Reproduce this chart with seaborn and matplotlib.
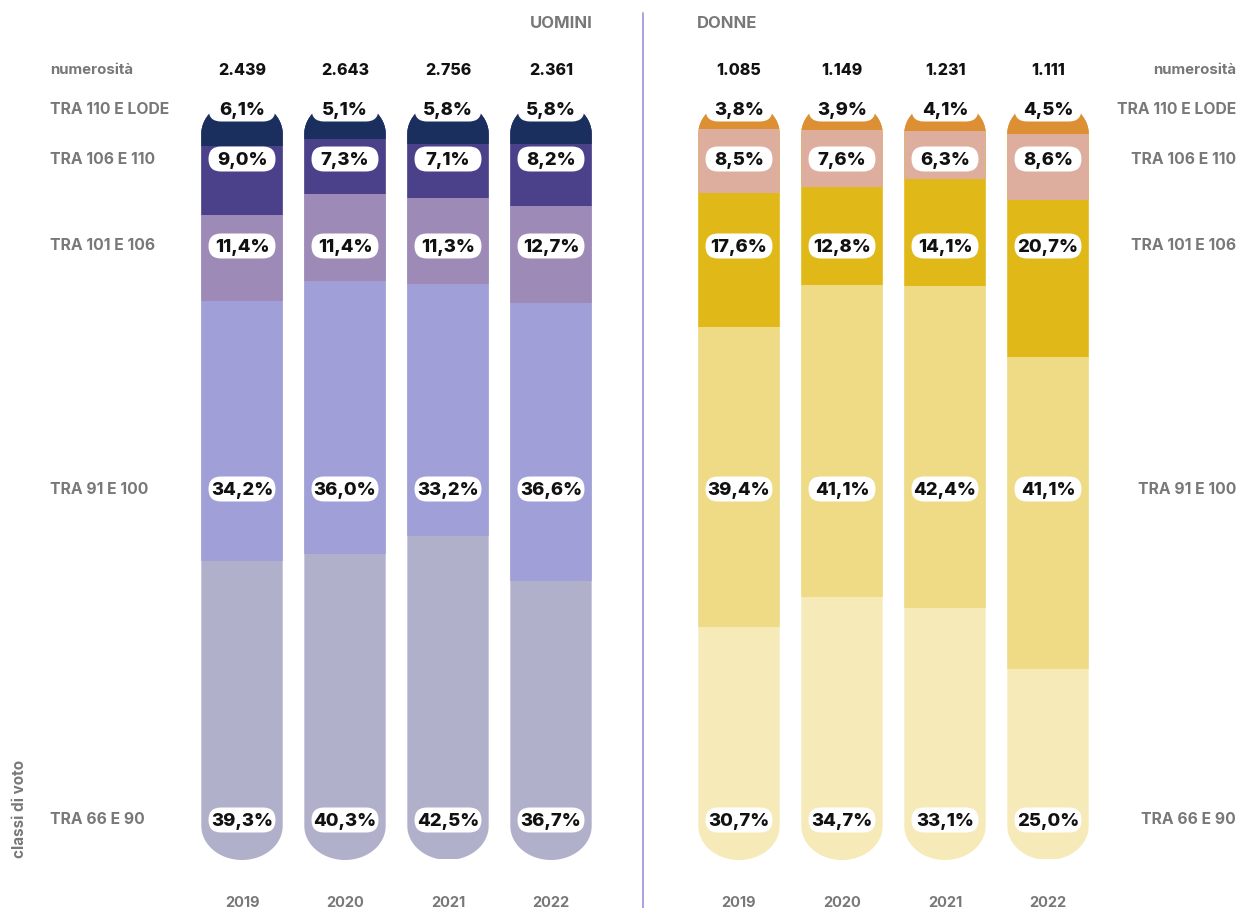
import numpy as np
import pandas as pd
import matplotlib
matplotlib.use("Agg")
import matplotlib.pyplot as plt
import seaborn as sns
from matplotlib.path import Path
from matplotlib.patches import FancyBboxPatch
from matplotlib.transforms import IdentityTransform

# ---- data ----
years = ["2019", "2020", "2021", "2022"]
classes = ["TRA 110 E LODE", "TRA 106 E 110", "TRA 101 E 106", "TRA 91 E 100", "TRA 66 E 90"]

men_counts = ["2.439", "2.643", "2.756", "2.361"]
women_counts = ["1.085", "1.149", "1.231", "1.111"]

men_110_lode = [6.1, 5.1, 5.8, 5.8]
men_106_110 = [9.0, 7.3, 7.1, 8.2]
men_101_106 = [11.4, 11.4, 11.3, 12.7]
men_91_100 = [34.2, 36.0, 33.2, 36.6]
men_66_90 = [39.3, 40.3, 42.5, 36.7]

women_110_lode = [3.8, 3.9, 4.1, 4.5]
women_106_110 = [8.5, 7.6, 6.3, 8.6]
women_101_106 = [17.6, 12.8, 14.1, 20.7]
women_91_100 = [39.4, 41.1, 42.4, 41.1]
women_66_90 = [30.7, 34.7, 33.1, 25.0]

men_colors = ["#1b2f5f", "#4a418a", "#9d8ab6", "#a09fd8", "#b0b0cb"]
women_colors = ["#dc8f33", "#ddad9d", "#e0b919", "#efda86", "#f6eab8"]

# ---- style ----
sns.set_theme(style="white")
plt.rcParams["font.family"] = ["Inter", "DejaVu Sans"]

W, H = 1238, 908
fig = plt.figure(figsize=(W / 100, H / 100), dpi=100)
fig.patch.set_facecolor("white")

GRAY = "#787878"
BAR_TOP, BAR_BOT = 100, 860          # pixel rows of the bar ends
ROW_PX = [109, 159, 246, 489, 820]   # pixel rows of the class labels
SLOT = 103                           # pixel distance between bar centres
BAR_W = 0.79
BOX_W, BOX_H = 67, 25                # value-label pill size in pixels


def fx(px):
    return px / W


def fy(py):
    return 1 - py / H


def px_to_val(py):
    return (py - BAR_TOP) / (BAR_BOT - BAR_TOP) * 100


def fmt(v):
    return f"{v:.1f}".replace(".", ",") + "%"


def pill_path(cx, top, bot, hw, ry, n=60):
    """Rounded bar outline in display pixels (origin bottom-left)."""
    t1 = np.linspace(0, np.pi, n)
    top_arc = np.column_stack([cx + hw * np.cos(t1), top - ry + ry * np.sin(t1)])
    t2 = np.linspace(np.pi, 2 * np.pi, n)
    bot_arc = np.column_stack([cx + hw * np.cos(t2), bot + ry + ry * np.sin(t2)])
    verts = np.vstack([top_arc, bot_arc, top_arc[:1]])
    codes = [Path.MOVETO] + [Path.LINETO] * (len(verts) - 2) + [Path.CLOSEPOLY]
    return Path(verts, codes)


def draw_group(first_center, series, colors, counts):
    left = first_center - SLOT / 2
    ax = fig.add_axes([fx(left), fy(BAR_BOT), fx(SLOT * 4), (BAR_BOT - BAR_TOP) / H])
    cum = np.cumsum(np.array(series), axis=0)
    # draw from the bottom class upward so shorter stacks sit on top
    for k in range(len(series) - 1, -1, -1):
        df = pd.DataFrame({"anno": years, "valore": cum[k]})
        sns.barplot(data=df, x="anno", y="valore", order=years, color=colors[k],
                    saturation=1, width=BAR_W, ax=ax, linewidth=0)
    ax.set_xlim(-0.5, 3.5)
    ax.set_ylim(100, 0)
    ax.set_yticks([])
    ax.set_xlabel("")
    ax.set_ylabel("")
    for s in ax.spines.values():
        s.set_visible(False)
    ax.tick_params(axis="x", length=0, pad=26)
    for lbl in ax.get_xticklabels():
        lbl.set_color(GRAY)
        lbl.set_fontweight("bold")
        lbl.set_fontsize(10.5)

    # rounded ends for each bar
    fig.canvas.draw()
    hw = BAR_W / 2 * SLOT
    for p in ax.patches:
        cx_data = p.get_x() + p.get_width() / 2
        cx = ax.transData.transform((cx_data, 0))[0]
        path = pill_path(cx, H - BAR_TOP, H - BAR_BOT, hw, 34)
        p.set_clip_path(path, IdentityTransform())

    # value labels on fixed rows, each on a white pill
    for k, vals in enumerate(series):
        yv = px_to_val(ROW_PX[k] + 1)
        for i, v in enumerate(vals):
            cx = ax.transData.transform((i, 0))[0]
            cy = H - ROW_PX[k]
            box = FancyBboxPatch((cx - BOX_W / 2, cy - BOX_H / 2), BOX_W, BOX_H,
                                 boxstyle=f"round,pad=0,rounding_size={BOX_H / 2}",
                                 fc="white", ec="none", transform=IdentityTransform(),
                                 clip_on=False, zorder=4)
            ax.add_patch(box)
            ax.text(i, yv, fmt(v), ha="center", va="center", fontsize=13.3,
                    fontweight=800, color="#111111", clip_on=False, zorder=5)
    # counts
    for i, c in enumerate(counts):
        ax.text(i, px_to_val(70), c, ha="center", va="center", fontsize=11.5,
                fontweight=800, color="#111111", clip_on=False)
    return ax


men_series = [men_110_lode, men_106_110, men_101_106, men_91_100, men_66_90]
women_series = [women_110_lode, women_106_110, women_101_106, women_91_100, women_66_90]

draw_group(242, men_series, men_colors, men_counts)
draw_group(739, women_series, women_colors, women_counts)

# row labels on both sides
for name, py in zip(classes, ROW_PX):
    fig.text(fx(50), fy(py), name, ha="left", va="center", fontsize=11.3,
             fontweight="bold", color=GRAY)
    fig.text(fx(1236), fy(py), name, ha="right", va="center", fontsize=11.3,
             fontweight="bold", color=GRAY)
fig.text(fx(50), fy(70), "numerosità", ha="left", va="center", fontsize=10.8,
         fontweight="bold", color=GRAY)
fig.text(fx(1236), fy(70), "numerosità", ha="right", va="center", fontsize=10.8,
         fontweight="bold", color=GRAY)

# group headers and divider
fig.text(fx(593), fy(24), "UOMINI", ha="right", va="center", fontsize=12,
         fontweight="bold", color=GRAY)
fig.text(fx(697), fy(24), "DONNE", ha="left", va="center", fontsize=12,
         fontweight="bold", color=GRAY)
fig.add_artist(plt.Line2D([fx(643), fx(643)], [fy(13), fy(908)],
                          transform=fig.transFigure, color="#a19be0", lw=1.3))

fig.text(fx(20), fy(809), "classi di voto", rotation=90, ha="center", va="center",
         fontsize=11, fontweight="bold", color=GRAY)

fig.savefig("out.png", dpi=100, facecolor="white")
